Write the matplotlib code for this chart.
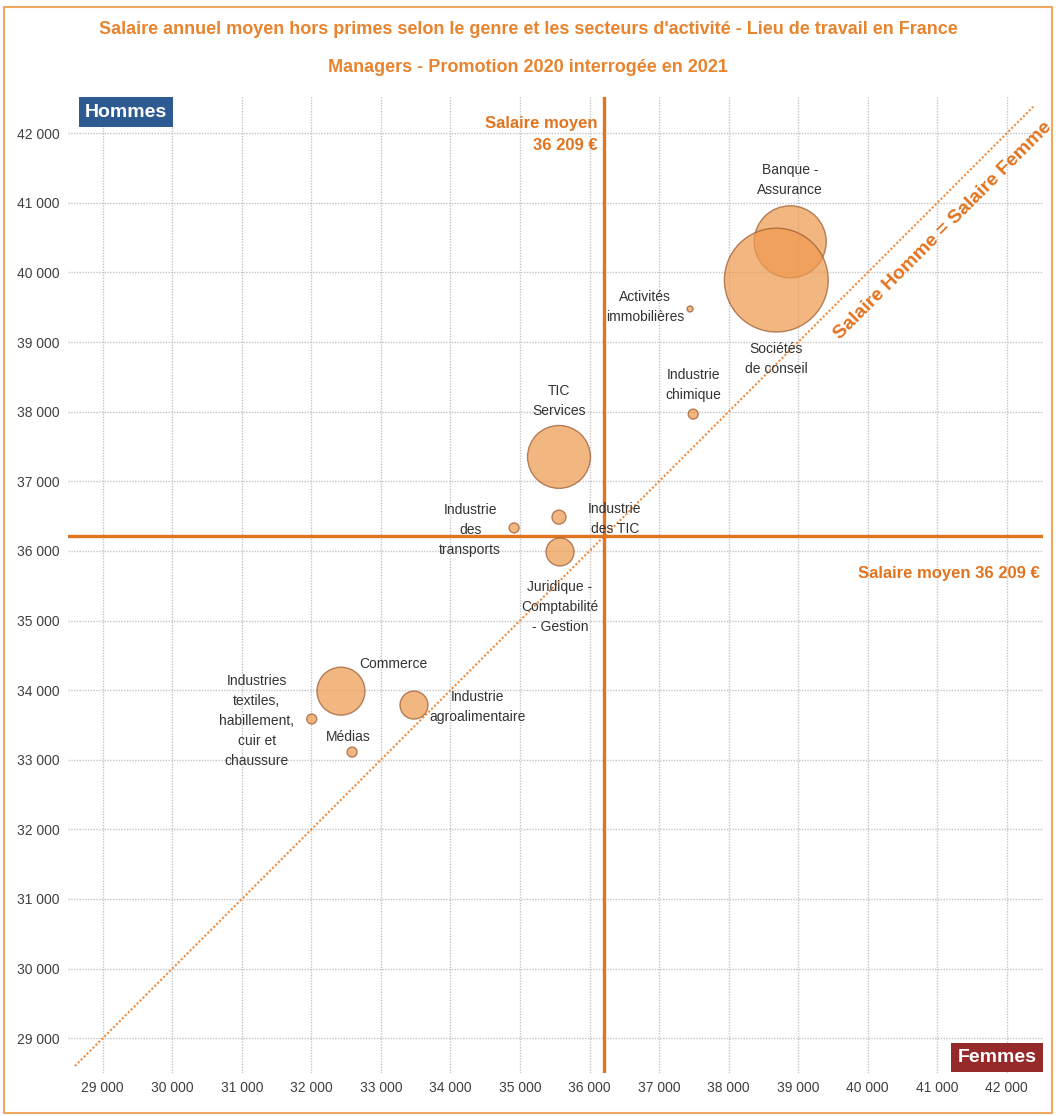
import matplotlib
matplotlib.use("Agg")
import matplotlib.pyplot as plt
from matplotlib import font_manager
from matplotlib.patches import Rectangle

# donnees : salaire femmes (x), salaire hommes (y), poids de la bulle
secteurs = ["Banque -\nAssurance", "Sociétés\nde conseil", "Activités\nimmobilières",
            "Industrie\nchimique", "TIC\nServices", "Industrie\ndes TIC",
            "Industrie\ndes\ntransports", "Juridique -\nComptabilité\n- Gestion",
            "Commerce", "Industrie\nagroalimentaire",
            "Industries\ntextiles,\nhabillement,\ncuir et\nchaussure", "Médias"]
salaire_femmes = [38885, 38685, 37445, 37490, 35560, 35560, 34915, 35575, 32425, 33475, 32005, 32585]
salaire_hommes = [40440, 39890, 39475, 37965, 37350, 36485, 36330, 35985, 33985, 33785, 33585, 33110]
effectifs = [1300, 2700, 9, 25, 990, 49, 25, 196, 576, 196, 25, 25]
salaire_moyen = 36209
ticks = list(range(29000, 43000, 1000))

# decalage des etiquettes (pixels)
decalages = [(0, 62), (0, -79), (-45, 2), (0, 29), (0, 56), (56, -2),
             (-44, -2), (0, -55), (52, 27), (64, -2), (-55, -2), (-4, 15)]

names = {f.name for f in font_manager.fontManager.ttflist}
narrow = "Liberation Sans Narrow" if "Liberation Sans Narrow" in names else "Liberation Sans"
plt.rcParams["font.family"] = [narrow, "DejaVu Sans"]

orange = "#E2731F"
fig = plt.figure(figsize=(10.56, 11.16), dpi=100)
ax = fig.add_axes([68/1056, 1-1073/1116, 975/1056, 976/1116])

ax.set_xlim(28500, 42520)
ax.set_ylim(28500, 42520)
ax.set_xticks(ticks)
ax.set_yticks(ticks)
fmt = lambda v: f"{v:,}".replace(",", " ")
ax.set_xticklabels([fmt(t) for t in ticks], fontsize=10, color="#404040")
ax.set_yticklabels([fmt(t) for t in ticks], fontsize=10, color="#404040")
ax.tick_params(length=0, pad=6)
for s in ax.spines.values():
    s.set_visible(False)
ax.grid(True, color="#c4c4c4", linestyle=(0, (1, 1)), linewidth=1)
ax.set_axisbelow(True)

# ligne salaire homme = salaire femme
ax.plot([28600, 42380], [28600, 42380], color="#F08A3A", linestyle=(0, (1, 1)), linewidth=1.5, zorder=2)
ax.axvline(salaire_moyen, color=orange, linewidth=2.4, zorder=3)
ax.axhline(salaire_moyen, color=orange, linewidth=2.4, zorder=3)

ax.scatter(salaire_femmes, salaire_hommes, s=[2.07*e for e in effectifs],
           color="#EE9A50", alpha=0.72, edgecolors="#9A5A30", linewidths=1, zorder=4)

for nom, x, y, d in zip(secteurs, salaire_femmes, salaire_hommes, decalages):
    ax.annotate(nom, (x, y), xytext=d, textcoords="offset pixels", ha="center", va="center",
                fontsize=10, color="#333333", linespacing=1.55, zorder=5)

ax.text(36120, 41980, "Salaire moyen\n36 209 €", ha="right", va="center", color=orange,
        fontsize=12, fontweight="bold", linespacing=1.6)
ax.text(42480, 35680, "Salaire moyen 36 209 €", ha="right", va="center", color=orange,
        fontsize=12, fontweight="bold")
ax.text(41080, 40600, "Salaire Homme = Salaire Femme", ha="center", va="center", color=orange,
        fontsize=14, fontweight="bold", rotation=45, rotation_mode="anchor")

ax.text(0.0595, 0.9845, "Hommes", transform=ax.transAxes, ha="center", va="center",
        color="white", fontsize=14, fontweight="bold",
        bbox=dict(boxstyle="square,pad=0.32", facecolor="#2E5A92", edgecolor="none"))
ax.text(0.953, 0.016, "Femmes", transform=ax.transAxes, ha="center", va="center",
        color="white", fontsize=14, fontweight="bold",
        bbox=dict(boxstyle="square,pad=0.32", facecolor="#962A2A", edgecolor="none"))

fig.text(0.5, 1-30/1116, "Salaire annuel moyen hors primes selon le genre et les secteurs d'activité - Lieu de travail en France",
         ha="center", va="center", color="#E8832E", fontsize=13, fontweight="bold")
fig.text(0.5, 1-67/1116, "Managers - Promotion 2020 interrogée en 2021",
         ha="center", va="center", color="#E8832E", fontsize=13, fontweight="bold")

fig.patches.append(Rectangle((0.004, 0.003), 0.992, 0.991, transform=fig.transFigure,
                             fill=False, edgecolor="#F0A860", linewidth=1.5))

fig.savefig("out.png", dpi=100)
